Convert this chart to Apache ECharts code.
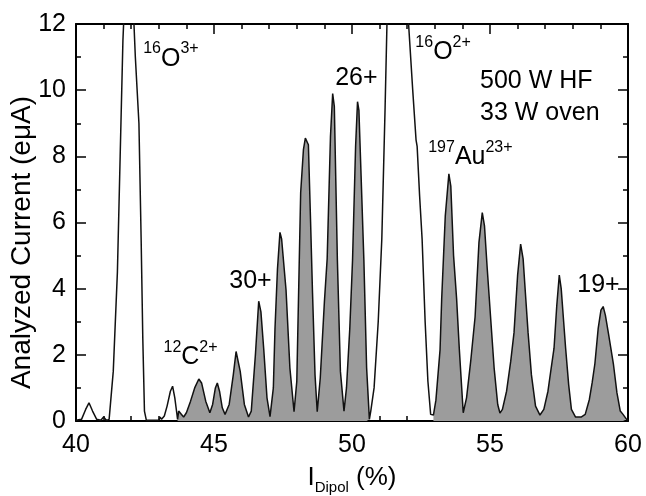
<!DOCTYPE html>
<html>
<head>
<meta charset="utf-8">
<script src="https://cdn.jsdelivr.net/npm/echarts@6/dist/echarts.min.js"></script>
<style>
  html, body { margin: 0; padding: 0; background: #fff; }
  #chart { width: 646px; height: 496px; }
</style>
</head>
<body>
<div id="chart"></div>
<script>
// dipole current (%) of each sample point
const dipol = [
  40.0, 40.2, 40.35, 40.47, 40.6, 40.75, 40.9, 41.0, 41.1, 41.2,
  41.35, 41.5, 41.6, 41.7, 41.8, 41.95, 42.05, 42.15, 42.28, 42.36,
  42.42, 42.48, 42.55, 43.0, 43.05, 43.1, 43.2, 43.3, 43.42, 43.5,
  43.58, 43.65, 43.68, 43.72, 43.8, 43.9, 44.0, 44.15, 44.3, 44.45,
  44.55, 44.7, 44.85, 44.95, 45.05, 45.12, 45.2, 45.3, 45.4, 45.55,
  45.7, 45.8, 45.87, 45.95, 46.1, 46.25, 46.35, 46.5, 46.62, 46.7,
  46.8, 46.92, 47.03, 47.15, 47.21, 47.3, 47.39, 47.45, 47.61, 47.75,
  47.9, 48.0, 48.14, 48.24, 48.31, 48.42, 48.5, 48.57, 48.66, 48.74,
  48.85, 49.0, 49.1, 49.22, 49.3, 49.36, 49.47, 49.58, 49.71, 49.8,
  49.92, 50.02, 50.13, 50.2, 50.25, 50.33, 50.43, 50.53, 50.63, 50.68,
  50.8, 50.95, 51.08, 51.2, 51.28, 51.45, 51.75, 51.95, 52.05, 52.2,
  52.32, 52.36, 52.45, 52.54, 52.65, 52.75, 52.85, 52.95, 53.04, 53.19,
  53.25, 53.38, 53.51, 53.58, 53.68, 53.79, 53.89, 54.03, 54.15, 54.3,
  54.46, 54.6, 54.72, 54.8, 54.9, 55.02, 55.15, 55.28, 55.36, 55.45,
  55.6, 55.75, 55.87, 56.0, 56.11, 56.2, 56.28, 56.38, 56.5, 56.65,
  56.81, 56.95, 57.1, 57.2, 57.32, 57.42, 57.51, 57.58, 57.66, 57.74,
  57.85, 57.95, 58.1, 58.3, 58.45, 58.6, 58.7, 58.8, 58.92, 59.02,
  59.1, 59.18, 59.3, 59.47, 59.6, 59.72, 59.82, 59.95, 60.0
];

// analyzed current (eμA) at each point, O peaks go off scale
const current = [
  0.02, 0.05, 0.35, 0.55, 0.3, 0.05, 0.02, 0.12, 0.02, 0.05,
  1.5, 4.5, 8.0, 11.5, 13.5, 14.0, 13.0, 11.0, 9.0, 5.5,
  2.5, 0.3, 0.02, 0.02, 0.12, 0.05, 0.15, 0.45, 0.9, 1.05,
  0.7, 0.25, 0.05, 0.3, 0.22, 0.12, 0.25, 0.6, 1.0, 1.27,
  1.15, 0.6, 0.25, 0.5, 1.0, 1.15, 0.9, 0.4, 0.2, 0.5,
  1.4, 2.1, 2.1, 1.5, 0.5, 0.12, 0.3, 2.0, 3.62, 3.3,
  2.2, 0.7, 0.13, 1.0, 2.8, 4.6, 5.7, 5.5, 3.96, 1.6,
  0.28, 1.2, 6.9, 8.2, 8.55, 8.35, 6.0, 3.86, 1.4, 0.28,
  1.3, 3.6, 4.9, 8.6, 9.9, 9.5, 4.87, 1.5, 0.3, 1.0,
  2.8, 4.87, 8.3, 9.65, 9.4, 7.4, 4.87, 1.6, 0.05, 0.3,
  1.0, 3.0, 5.5, 9.5, 12.5, 14.5, 15.0, 13.5, 12.0, 10.0,
  8.5, 8.3, 6.8, 5.5, 3.0, 1.2, 0.2, 0.18, 0.63, 2.15,
  3.7, 6.2, 7.47, 7.1, 5.0, 3.7, 2.15, 0.25, 0.7, 1.8,
  3.15, 5.4, 6.3, 5.9, 4.6, 3.15, 1.6, 0.5, 0.24, 0.35,
  0.9, 1.8, 2.67, 4.4, 5.35, 4.9, 3.9, 2.67, 1.4, 0.45,
  0.18, 0.35, 0.9, 1.5, 2.2, 3.5, 4.41, 4.0, 3.1, 2.2,
  1.1, 0.35, 0.12, 0.12, 0.2, 0.65, 1.15, 1.73, 2.8, 3.35,
  3.46, 3.2, 2.6, 1.73, 0.85, 0.3, 0.2, 0.05, 0.02
];

// dipole ranges where the gold charge states are shaded
const goldRanges = [[43.68, 50.63], [52.95, 60.0]];

const xTicks = [40, 45, 50, 55, 60];
const yTicks = [0, 2, 4, 6, 8, 10, 12];

const FONT = '"Liberation Sans", Arial, Helvetica, sans-serif';

const chart = echarts.init(document.getElementById('chart'), null, { renderer: 'canvas' });

const spectrum = dipol.map((x, i) => [x, current[i]]);
const shaded = dipol.map((x, i) => {
  const inside = goldRanges.some(r => x >= r[0] && x <= r[1]);
  return [x, inside ? current[i] : null];
});

function axisX(pos, showLabels) {
  return {
    type: 'value', position: pos,
    min: xTicks[0], max: xTicks[xTicks.length - 1], interval: 5,
    axisLine: { show: true, onZero: false, lineStyle: { color: '#000', width: 2 } },
    axisTick: { show: true, inside: true, length: 10, lineStyle: { color: '#000', width: 1.5 } },
    minorTick: { show: true, splitNumber: 5, length: 5, lineStyle: { color: '#000', width: 1.5 } },
    splitLine: { show: false },
    axisLabel: { show: showLabels, margin: 12, color: '#000', fontSize: 25, fontFamily: FONT }
  };
}

function axisY(pos, showLabels) {
  return {
    type: 'value', position: pos,
    min: yTicks[0], max: yTicks[yTicks.length - 1], interval: 2,
    axisLine: { show: true, onZero: false, lineStyle: { color: '#000', width: 2 } },
    axisTick: { show: true, inside: true, length: 10, lineStyle: { color: '#000', width: 1.5 } },
    minorTick: { show: true, splitNumber: 2, length: 5, lineStyle: { color: '#000', width: 1.5 } },
    splitLine: { show: false },
    axisLabel: { show: showLabels, margin: 10, color: '#000', fontSize: 25, fontFamily: FONT }
  };
}

const xBottom = axisX('bottom', true);
xBottom.name = '{i|I}{sub|Dipol}{i| (%)}';
xBottom.nameLocation = 'middle';
xBottom.nameGap = 40;
xBottom.nameMoveOverlap = false;
xBottom.nameTextStyle = {
  color: '#000', fontFamily: FONT,
  rich: {
    i: { fontSize: 26, lineHeight: 34, fontFamily: FONT, color: '#000' },
    sub: { fontSize: 15, lineHeight: 14, verticalAlign: 'bottom', fontFamily: FONT, color: '#000' }
  }
};

const yLeft = axisY('left', true);
yLeft.name = 'Analyzed Current (eμA)';
yLeft.nameLocation = 'middle';
yLeft.nameRotate = 90;
yLeft.nameGap = 40;
yLeft.nameMoveOverlap = false;
// right padding in text space moves the rotated name down a little
yLeft.nameTextStyle = { color: '#000', fontSize: 28, fontFamily: FONT, padding: [0, 40, 0, 0] };

chart.setOption({
  animation: false,
  backgroundColor: '#fff',
  grid: { left: 76, right: 18, top: 24, bottom: 75, containLabel: false, outerBoundsMode: 'none' },
  xAxis: [xBottom, axisX('top', false)],
  yAxis: [yLeft, axisY('right', false)],
  series: [
    {
      // gray shading under the gold peaks
      type: 'line', data: shaded, showSymbol: false, connectNulls: false,
      lineStyle: { width: 0 },
      areaStyle: { color: '#9c9c9c', opacity: 1 },
      z: 2
    },
    {
      type: 'line', data: spectrum, showSymbol: false,
      lineStyle: { color: '#111', width: 1.5 },
      z: 3
    }
  ]
});

// peak labels, anchored in data coordinates
const sup = { fontSize: 16, lineHeight: 16, verticalAlign: 'top', fontFamily: FONT, color: '#000' };
const big = { fontSize: 25, lineHeight: 36, fontFamily: FONT, color: '#000' };
const notes = [
  { at: [43.44, 10.94], text: '{s|16}{b|O}{s|3+}', align: 'center' },
  { at: [53.30, 11.14], text: '{s|16}{b|O}{s|2+}', align: 'center' },
  { at: [54.29, 7.97], text: '{s|197}{b|Au}{s|23+}', align: 'center' },
  { at: [44.15, 1.93], text: '{s|12}{b|C}{s|2+}', align: 'center' },
  { at: [46.32, 4.23], text: '{b|30+}', align: 'center' },
  { at: [50.16, 10.37], text: '{b|26+}', align: 'center' },
  { at: [58.93, 4.11], text: '{b|19+}', align: 'center' },
  { at: [54.64, 10.28], text: '{b|500 W HF}', align: 'left' },
  { at: [54.64, 9.31], text: '{b|33 W oven}', align: 'left' }
];

const graphics = notes.map(n => {
  const p = chart.convertToPixel({ xAxisIndex: 0, yAxisIndex: 0 }, n.at);
  return {
    type: 'text', x: p[0], y: p[1], z: 10,
    style: {
      text: n.text, align: n.align, verticalAlign: 'middle',
      rich: { s: sup, b: big }
    }
  };
});

chart.setOption({ graphic: graphics });
</script>
</body>
</html>
